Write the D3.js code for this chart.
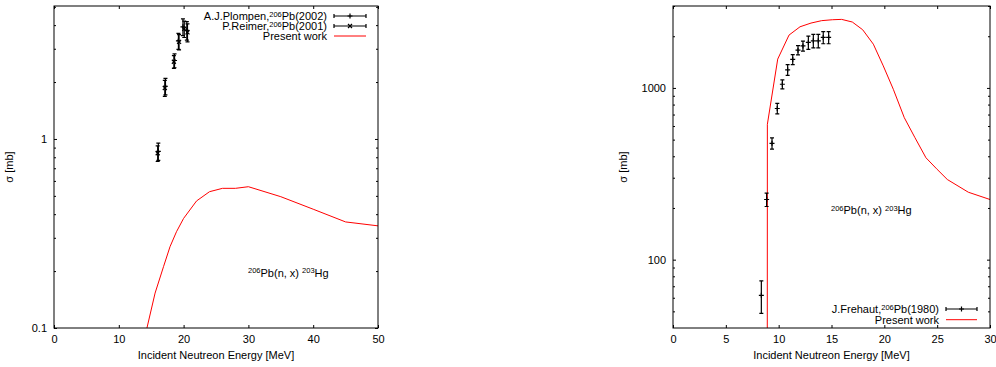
<!DOCTYPE html>
<html lang="en">
<head>
<meta charset="UTF-8">
<title>206Pb(n,x)203Hg cross section</title>
<script src="https://d3js.org/d3.v7.min.js"></script>
<style>
  body { margin: 0; background: #fff; }
  svg { display: block; font-family: "Liberation Sans", Arial, sans-serif; font-size: 11px; }
  .frame { fill: none; stroke: #000; stroke-width: 1; }
  .tick line { stroke: #000; }
  .present { fill: none; stroke: #f00; stroke-width: 1; }
  .err, .mark { fill: none; stroke: #000; stroke-width: 1.2; }
</style>
</head>
<body>
<script>
// ---- left panel data (energies in MeV, sigma in mb) ----
const plompenE   = [16.1, 17.2, 18.6, 19.2, 19.9, 20.5];
const plompenS   = [0.86, 1.90, 2.60, 3.30, 3.92, 3.75];
const plompenErr = [0.09, 0.19, 0.22, 0.32, 0.40, 0.42];

const reimerE   = [16.0, 17.1, 18.5, 19.3, 20.1, 20.6];
const reimerS   = [0.84, 1.86, 2.56, 3.26, 3.82, 3.66];
const reimerErr = [0.08, 0.18, 0.20, 0.30, 0.38, 0.40];

const presentLeftE = [14.0, 15.6, 16.9, 17.9, 18.9, 20, 22, 24, 26, 28, 30, 35, 40, 45, 50];
const presentLeftS = [0.089, 0.153, 0.211, 0.269, 0.323, 0.38, 0.47, 0.526, 0.548, 0.548, 0.559, 0.495, 0.425, 0.364, 0.347];

// ---- right panel data ----
const frehautE   = [8.36, 8.86, 9.37, 9.87, 10.35, 10.85, 11.33, 11.83, 12.3, 12.81, 13.28, 13.75, 14.22, 14.73];
const frehautS   = [62, 224, 476, 759, 1051, 1274, 1465, 1660, 1757, 1840, 1880, 1880, 1968, 1968];
const frehautErr = [13.3, 20, 36, 53, 64, 92, 98, 102, 118, 165, 170, 170, 160, 160];

const presentRightE = [8.92, 8.93, 9.91, 10.98, 12.02, 13.06, 14.07, 15.08, 15.96, 16.97, 17.95, 18.96, 19.9, 20.85, 21.89, 22.9, 23.94, 24.95, 25.96, 27.95, 30];
const presentRightS = [10, 614, 1472, 2031, 2270, 2386, 2465, 2495, 2507, 2420, 2182, 1798, 1344, 982, 671, 513, 392, 338, 293, 247, 224];

// ---- ticks ----
const leftXTicks  = [0, 10, 20, 30, 40, 50];
const leftYMajor  = [0.1, 1];
const leftYMinor  = [0.2, 0.3, 0.4, 0.5, 0.6, 0.7, 0.8, 0.9, 2, 3, 4, 5];
const rightXTicks = [0, 5, 10, 15, 20, 25, 30];
const rightYMajor = [100, 1000];
const rightYMinor = [50, 60, 70, 80, 90, 200, 300, 400, 500, 600, 700, 800, 900, 2000, 3000];

const svg = d3.select('body').append('svg')
    .attr('width', 996)
    .attr('height', 367);

// text with superscript parts: [string, isSup]
function richText(g, parts, x, y, anchor) {
    const t = g.append('text').attr('x', x).attr('y', y).attr('text-anchor', anchor);
    let up = false;
    parts.forEach(([s, sup]) => {
        const ts = t.append('tspan').text(s);
        if (sup && !up) { ts.attr('dy', -3.5).attr('font-size', 7.5); up = true; }
        else if (sup) { ts.attr('font-size', 7.5); }
        else if (up) { ts.attr('dy', 3.5); up = false; }
    });
    return t;
}

const plus  = 'M-2.5,0H2.5M0,-2.5V2.5';
const cross = 'M-2,-2L2,2M-2,2L2,-2';

function drawPanel(cfg) {
    const g = svg.append('g');
    const x = d3.scaleLinear().domain(cfg.xDomain).range([cfg.left, cfg.right]);
    const y = d3.scaleLog().domain(cfg.yDomain).range([cfg.bottom, cfg.top]);

    svg.append('clipPath').attr('id', cfg.id + '-clip')
        .append('rect')
        .attr('x', cfg.left).attr('y', cfg.top)
        .attr('width', cfg.right - cfg.left).attr('height', cfg.bottom - cfg.top);

    function addAxis(axis, tr) {
        const a = g.append('g').attr('transform', tr).call(axis);
        a.select('.domain').remove();
        a.attr('font-size', null).attr('font-family', null);
        return a;
    }
    addAxis(d3.axisBottom(x).tickValues(cfg.xTicks).tickSize(-3).tickPadding(7).tickFormat(d3.format('d')), `translate(0,${cfg.bottom})`);
    addAxis(d3.axisTop(x).tickValues(cfg.xTicks).tickSize(-3).tickFormat(''), `translate(0,${cfg.top})`);
    addAxis(d3.axisLeft(y).tickValues(cfg.yMajor).tickSize(-3).tickPadding(7).tickFormat(d => String(d)), `translate(${cfg.left},0)`);
    addAxis(d3.axisLeft(y).tickValues(cfg.yMinor).tickSize(-2).tickFormat(''), `translate(${cfg.left},0)`);
    addAxis(d3.axisRight(y).tickValues(cfg.yMajor).tickSize(-3).tickFormat(''), `translate(${cfg.right},0)`);
    addAxis(d3.axisRight(y).tickValues(cfg.yMinor).tickSize(-2).tickFormat(''), `translate(${cfg.right},0)`);

    // axis titles
    g.append('text')
        .attr('x', (cfg.left + cfg.right) / 2).attr('y', 359)
        .attr('text-anchor', 'middle')
        .text('Incident Neutreon Energy [MeV]');
    g.append('text')
        .attr('transform', `translate(${cfg.yLabelX},${(cfg.top + cfg.bottom) / 2}) rotate(-90)`)
        .attr('text-anchor', 'middle')
        .text('σ [mb]');

    const plot = g.append('g').attr('clip-path', `url(#${cfg.id}-clip)`);

    // model curve
    const line = d3.line().x(d => x(d[0])).y(d => y(d[1]));
    plot.append('path')
        .datum(d3.zip(cfg.present[0], cfg.present[1]))
        .attr('class', 'present')
        .attr('d', line);

    // measured points with error bars
    cfg.series.forEach(s => {
        const pts = d3.zip(s.e, s.s, s.err);
        const pg = plot.append('g').selectAll('g').data(pts).enter().append('g');
        pg.append('path').attr('class', 'err').attr('d', d => {
            const xx = x(d[0]), y1 = y(d[1] - d[2]), y2 = y(d[1] + d[2]);
            return `M${xx},${y1}V${y2}M${xx - 2},${y1}H${xx + 2}M${xx - 2},${y2}H${xx + 2}`;
        });
        pg.append('path').attr('class', 'mark')
            .attr('transform', d => `translate(${x(d[0])},${y(d[1])})`)
            .attr('d', s.marker);
    });

    // legend
    const lg = g.append('g');
    cfg.legend.forEach((item, i) => {
        const cy = cfg.legendY + i * cfg.legendStep;
        richText(lg, item.label, cfg.legendText, cy + 4, 'end');
        if (item.marker) {
            lg.append('path').attr('class', 'err')
                .attr('d', `M${cfg.legendX1},${cy}H${cfg.legendX2}M${cfg.legendX1},${cy - 2}V${cy + 2}M${cfg.legendX2},${cy - 2}V${cy + 2}`);
            lg.append('path').attr('class', 'mark')
                .attr('transform', `translate(${(cfg.legendX1 + cfg.legendX2) / 2},${cy})`)
                .attr('d', item.marker);
        } else {
            lg.append('path').attr('class', 'present')
                .attr('d', `M${cfg.legendX1},${cy}H${cfg.legendX2}`);
        }
    });

    // reaction label
    richText(g, [['206', true], ['Pb(n, x) ', false], ['203', true], ['Hg', false]], cfg.noteX, cfg.noteY, 'start');

    // frame
    g.append('rect').attr('class', 'frame')
        .attr('x', cfg.left).attr('y', cfg.top)
        .attr('width', cfg.right - cfg.left).attr('height', cfg.bottom - cfg.top);
}

drawPanel({
    id: 'left',
    left: 54, right: 378, top: 6, bottom: 328,
    xDomain: [0, 50], yDomain: [0.1, 5.05],
    xTicks: leftXTicks, yMajor: leftYMajor, yMinor: leftYMinor,
    yLabelX: 13,
    present: [presentLeftE, presentLeftS],
    series: [
        { e: plompenE, s: plompenS, err: plompenErr, marker: plus },
        { e: reimerE, s: reimerS, err: reimerErr, marker: cross }
    ],
    legend: [
        { label: [['A.J.Plompen,', false], ['206', true], ['Pb(2002)', false]], marker: plus },
        { label: [['P.Reimer,', false], ['206', true], ['Pb(2001)', false]], marker: cross },
        { label: [['Present work', false]] }
    ],
    legendText: 327, legendX1: 334, legendX2: 366, legendY: 16, legendStep: 10,
    noteX: 248, noteY: 276.5
});

drawPanel({
    id: 'right',
    left: 673, right: 990, top: 6, bottom: 328,
    xDomain: [0, 30], yDomain: [40, 3000],
    xTicks: rightXTicks, yMajor: rightYMajor, yMinor: rightYMinor,
    yLabelX: 627,
    present: [presentRightE, presentRightS],
    series: [
        { e: frehautE, s: frehautS, err: frehautErr, marker: plus }
    ],
    legend: [
        { label: [['J.Frehaut,', false], ['206', true], ['Pb(1980)', false]], marker: plus },
        { label: [['Present work', false]] }
    ],
    legendText: 939, legendX1: 946, legendX2: 977, legendY: 309, legendStep: 10.7,
    noteX: 831, noteY: 214
});
</script>
</body>
</html>
